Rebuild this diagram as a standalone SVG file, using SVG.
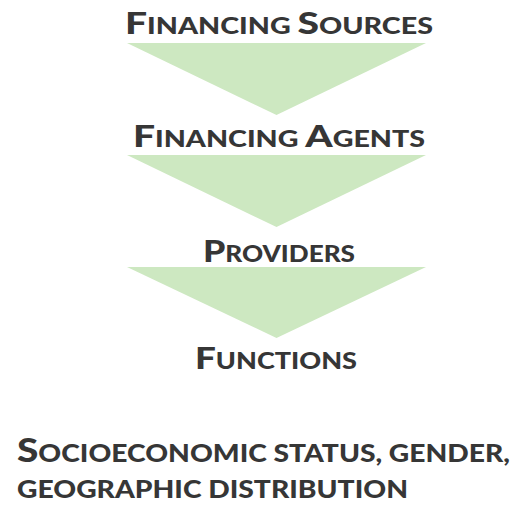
<svg xmlns="http://www.w3.org/2000/svg" width="522" height="512" viewBox="0 0 522 512">
<style>
.t{font-family:"Lato","Open Sans","Liberation Sans",sans-serif;font-weight:900;fill:#363636;}
.b{font-size:30px;}
.s{font-size:22px;}
.arrow{fill:#cde8c1;}
</style>
<rect width="522" height="512" fill="#ffffff"/>
<g id="connectors">
<polygon class="arrow" points="127,43 426,43 276.5,115"/>
<polygon class="arrow" points="127,155 426,155 276.5,227"/>
<polygon class="arrow" points="127,267 426,267 276.5,338"/>
</g>
<g id="financing-sources">
<text class="t" x="125" y="34" textLength="308" lengthAdjust="spacingAndGlyphs"><tspan class="b">F</tspan><tspan class="s">INANCING </tspan><tspan class="b">S</tspan><tspan class="s">OURCES</tspan></text>
</g>
<g id="financing-agents">
<text class="t" x="133" y="147" textLength="292" lengthAdjust="spacingAndGlyphs"><tspan class="b">F</tspan><tspan class="s">INANCING </tspan><tspan class="b">A</tspan><tspan class="s">GENTS</tspan></text>
</g>
<g id="providers">
<text class="t" x="203" y="262" textLength="152" lengthAdjust="spacingAndGlyphs"><tspan class="b">P</tspan><tspan class="s">ROVIDERS</tspan></text>
</g>
<g id="functions">
<text class="t" x="195" y="369" textLength="162" lengthAdjust="spacingAndGlyphs"><tspan class="b">F</tspan><tspan class="s">UNCTIONS</tspan></text>
</g>
<g id="stratifiers">
<text class="t" x="17" y="462" textLength="493" lengthAdjust="spacingAndGlyphs"><tspan style="font-size:33px">S</tspan><tspan style="font-size:24px">OCIOECONOMIC STATUS, GENDER,</tspan></text>
<text class="t" x="17" y="498" textLength="391" lengthAdjust="spacingAndGlyphs" style="font-size:24px">GEOGRAPHIC DISTRIBUTION</text>
</g>
</svg>
